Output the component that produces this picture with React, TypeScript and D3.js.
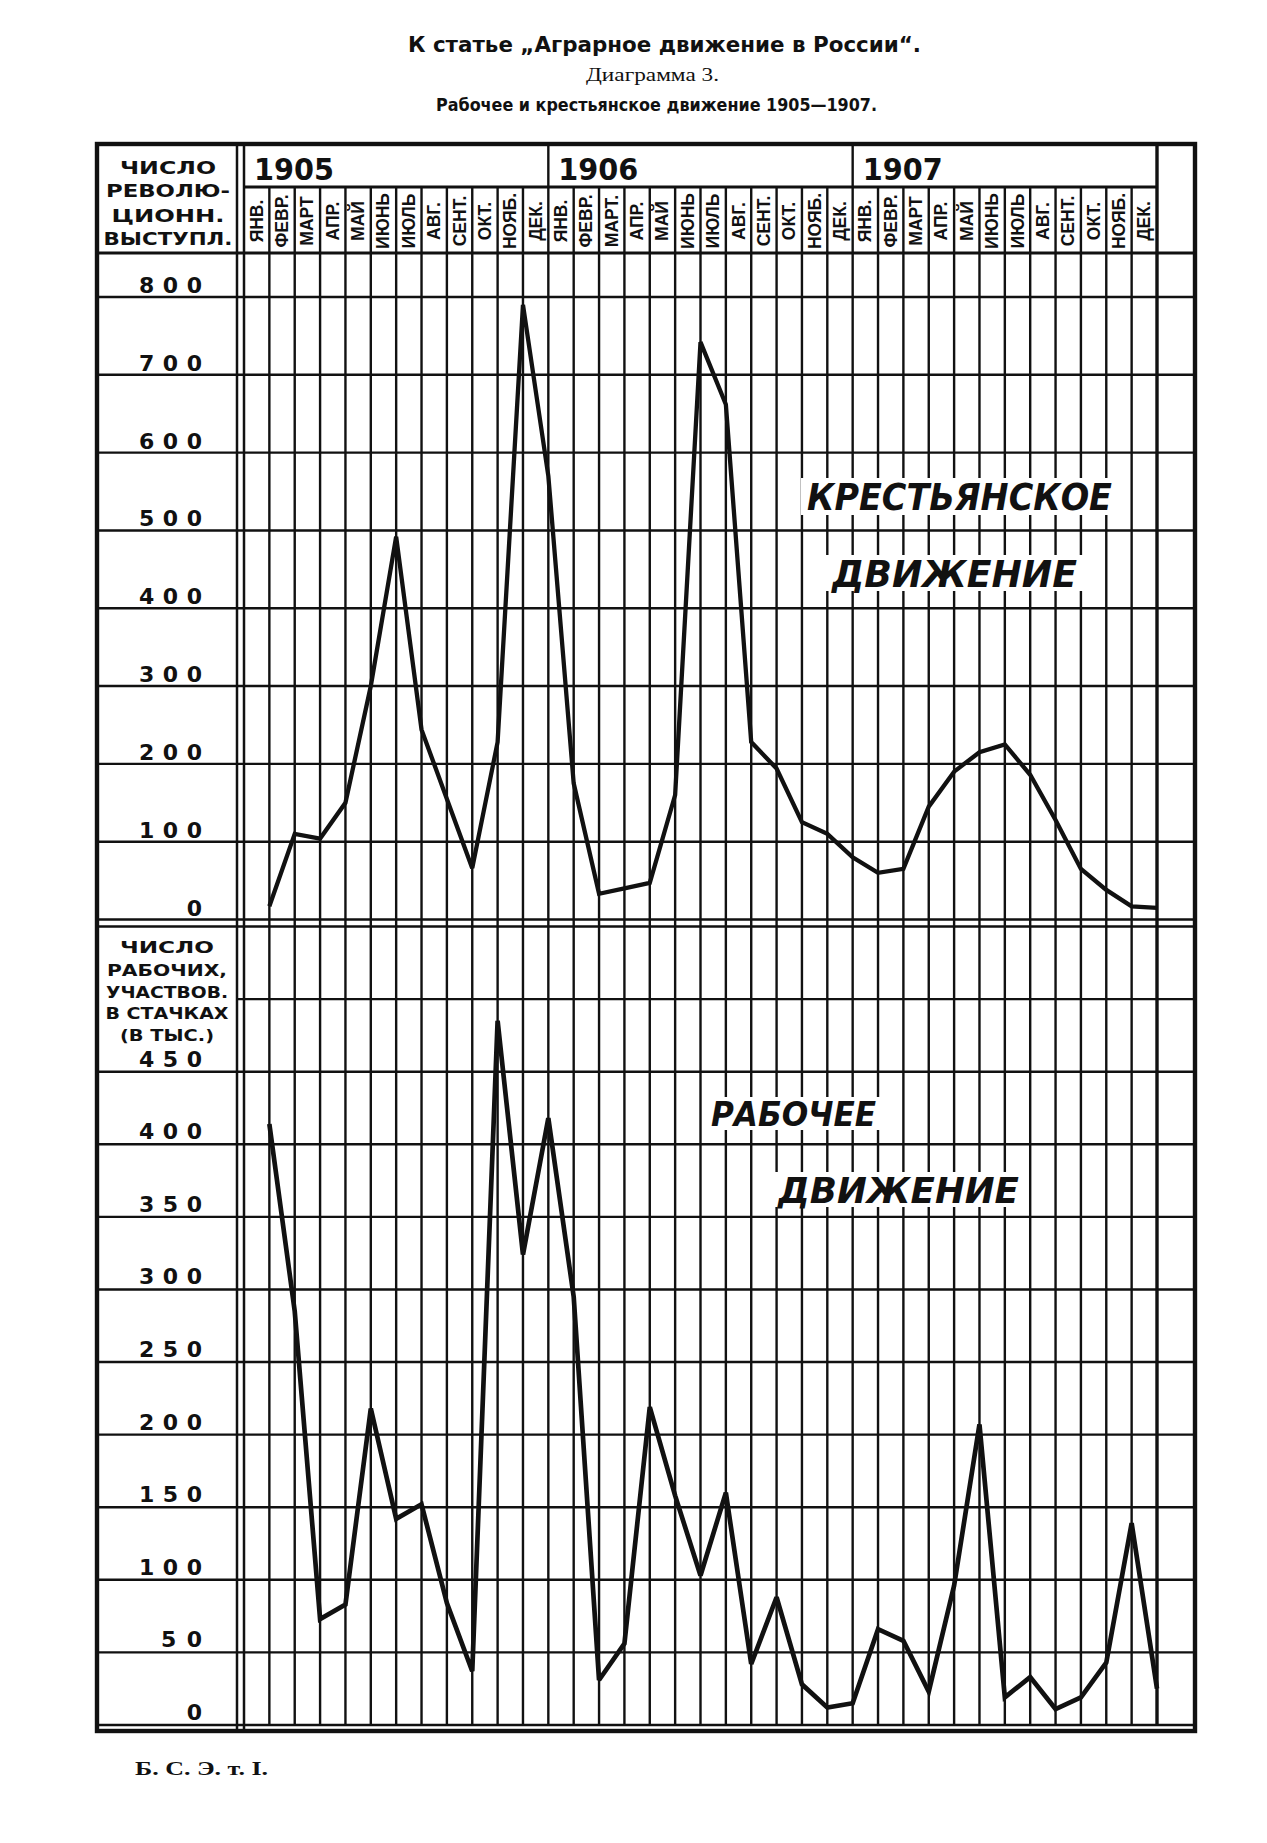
import React from "react";
import * as d3 from "d3";

// ---------- data ----------
const years = ["1905", "1906", "1907"];
const monthLabels = [
  "ЯНВ.", "ФЕВР.", "МАРТ", "АПР.", "МАЙ", "ИЮНЬ", "ИЮЛЬ", "АВГ.", "СЕНТ.", "ОКТ.", "НОЯБ.", "ДЕК.",
  "ЯНВ.", "ФЕВР.", "МАРТ.", "АПР.", "МАЙ", "ИЮНЬ", "ИЮЛЬ", "АВГ.", "СЕНТ.", "ОКТ.", "НОЯБ.", "ДЕК.",
  "ЯНВ.", "ФЕВР.", "МАРТ", "АПР.", "МАЙ", "ИЮНЬ", "ИЮЛЬ", "АВГ.", "СЕНТ.", "ОКТ.", "НОЯБ.", "ДЕК.",
];
// number of revolutionary peasant actions per month
const peasantValues = [
  17, 110, 104, 150, 300, 492, 244, 155, 66, 228, 790, 570,
  175, 33, 40, 47, 160, 742, 662, 228, 194, 125, 110, 80,
  60, 65, 145, 190, 215, 225, 186, 128, 65, 38, 17, 15,
];
// strikers, thousands
const workerValues = [
  414, 285, 73, 83, 218, 142, 152, 84, 37, 485, 324, 418,
  295, 31, 56, 219, 158, 103, 160, 42, 88, 28, 12, 15,
  66, 58, 23, 96, 207, 19, 33, 11, 19, 43, 139, 25,
];
const peasantTicks = [0, 100, 200, 300, 400, 500, 600, 700, 800];
const workerGridTicks = [0, 50, 100, 150, 200, 250, 300, 350, 400, 450, 500, 550];
const workerLabelTicks = [0, 50, 100, 150, 200, 250, 300, 350, 400, 450];
const peasantAxisTitle = ["ЧИСЛО", "РЕВОЛЮ-", "ЦИОНН.", "ВЫСТУПЛ."];
const workerAxisTitle = ["ЧИСЛО", "РАБОЧИХ,", "УЧАСТВОВ.", "В СТАЧКАХ", "(В ТЫС.)"];
const titleText = "К статье „Аграрное движение в России“.";
const subtitleText = "Диаграмма 3.";
const subtitle2Text = "Рабочее и крестьянское движение 1905—1907.";
const footerText = "Б. С. Э. т. I.";
const peasantLabel = ["КРЕСТЬЯНСКОЕ", "ДВИЖЕНИЕ"];
const workerLabel = ["РАБОЧЕЕ", "ДВИЖЕНИЕ"];

// ---------- layout ----------
const W = 1267;
const H = 1843;
const L = 97, R = 1195, T = 144, B = 1731;
const COL1 = 237, COL2 = 244, GRID_R = 1157;
const YEAR_B = 187, HEAD_B = 253;
const INK = "#111";
const GW = 2.4;

const capsFont = "'DejaVu Sans', Verdana, sans-serif";
const narrowFont = "'Liberation Sans Narrow', 'DejaVu Sans Condensed', 'Liberation Sans', Arial, sans-serif";
const monthFont = "'Liberation Sans', Arial, sans-serif";

export default function App() {
  const x = d3.scaleLinear().domain([0, 36]).range([COL2, GRID_R]);
  const yP = d3.scaleLinear().domain([0, 800]).range([919.5, 297]);
  const yW = d3.scaleLinear().domain([0, 550]).range([1725, 926.5]);

  const lineP = d3.line<number>().x((_, i) => x(i + 1)).y((d) => yP(d));
  const lineW = d3.line<number>().x((_, i) => x(i + 1)).y((d) => yW(d));

  const verticals: React.ReactNode[] = [];
  for (let k = 1; k <= 36; k++) {
    const isYear = k % 12 === 0;
    verticals.push(
      <line
        key={"v" + k}
        x1={x(k)}
        x2={x(k)}
        y1={isYear ? T : YEAR_B}
        y2={1725}
        stroke={INK}
        strokeWidth={k === 36 ? 3.4 : GW}
      />
    );
  }

  const labelWidth = (s: string) => (s.length === 3 ? 63 : s.length === 2 ? 41 : undefined);

  return (
    <svg
      width={W}
      height={H}
      viewBox={`0 0 ${W} ${H}`}
      style={{ position: "absolute", left: 0, top: 0, background: "#fff" }}
    >
      <rect x={0} y={0} width={W} height={H} fill="#fff" />

      {/* titles */}
      <text x={408} y={52} fontFamily={narrowFont} fontWeight="bold" fontSize={22}
        textLength={513} lengthAdjust="spacingAndGlyphs" fill={INK}>{titleText}</text>
      <text x={586} y={81} fontFamily="'Liberation Serif', 'DejaVu Serif', serif" fontSize={18}
        textLength={133} lengthAdjust="spacingAndGlyphs" fill={INK}>{subtitleText}</text>
      <text x={436} y={111} fontFamily={narrowFont} fontWeight="bold" fontSize={17}
        textLength={441} lengthAdjust="spacingAndGlyphs" fill={INK}>{subtitle2Text}</text>

      {/* peasant horizontal grid */}
      {peasantTicks.map((v) => (
        <line key={"hp" + v} x1={L} x2={R} y1={yP(v)} y2={yP(v)} stroke={INK} strokeWidth={GW} />
      ))}
      {/* worker horizontal grid */}
      {workerGridTicks.map((v) => (
        <line key={"hw" + v} x1={v === 500 ? COL1 : L} x2={R} y1={yW(v)} y2={yW(v)} stroke={INK} strokeWidth={GW} />
      ))}

      {/* header lines */}
      <line x1={L} x2={R} y1={HEAD_B} y2={HEAD_B} stroke={INK} strokeWidth={2.8} />
      <line x1={COL2} x2={GRID_R} y1={YEAR_B} y2={YEAR_B} stroke={INK} strokeWidth={2.8} />
      <line x1={COL1} x2={COL1} y1={T} y2={B} stroke={INK} strokeWidth={2.5} />
      <line x1={COL2} x2={COL2} y1={T} y2={B} stroke={INK} strokeWidth={2.5} />
      {verticals}

      {/* frame */}
      <rect x={L} y={T} width={R - L} height={B - T} fill="none" stroke={INK} strokeWidth={4.4} />

      {/* year labels */}
      {years.map((yr, i) => (
        <text key={yr} x={x(i * 12) + 10} y={180} fontFamily={capsFont} fontWeight="bold" fontSize={30}
          textLength={80} lengthAdjust="spacingAndGlyphs" fill={INK}>{yr}</text>
      ))}

      {/* month labels */}
      {monthLabels.map((m, k) => {
        const cx = x(k + 0.5);
        const cy = 221;
        return (
          <text key={"m" + k} x={cx} y={cy} transform={`rotate(-90 ${cx} ${cy})`}
            textAnchor="middle" dominantBaseline="central" fontFamily={monthFont}
            fontWeight="bold" fontSize={17.5} fill={INK}>{m}</text>
        );
      })}

      {/* axis titles */}
      {peasantAxisTitle.map((s, i) => {
        const widths = [96, 124, 113, 129];
        return (
          <text key={"pt" + i} x={168} y={[174, 197, 222, 245][i]} textAnchor="middle"
            fontFamily={capsFont} fontWeight="bold" fontSize={17}
            textLength={widths[i]} lengthAdjust="spacingAndGlyphs" fill={INK}>{s}</text>
        );
      })}
      {workerAxisTitle.map((s, i) => {
        const widths = [94, 120, 122, 123, 94];
        return (
          <text key={"wt" + i} x={167} y={[953, 976, 998, 1019, 1041][i]} textAnchor="middle"
            fontFamily={capsFont} fontWeight="bold" fontSize={15.5}
            textLength={widths[i]} lengthAdjust="spacingAndGlyphs" fill={INK}>{s}</text>
        );
      })}

      {/* y tick labels */}
      {peasantTicks.map((v) => {
        const s = String(v);
        return (
          <text key={"lp" + v} x={202} y={yP(v) - 4} textAnchor="end" fontFamily={capsFont}
            fontWeight="bold" fontSize={22} textLength={labelWidth(s)}
            lengthAdjust={labelWidth(s) ? "spacing" : undefined} fill={INK}>{s}</text>
        );
      })}
      {workerLabelTicks.map((v) => {
        const s = String(v);
        return (
          <text key={"lw" + v} x={202} y={yW(v) - 5} textAnchor="end" fontFamily={capsFont}
            fontWeight="bold" fontSize={22} textLength={labelWidth(s)}
            lengthAdjust={labelWidth(s) ? "spacing" : undefined} fill={INK}>{s}</text>
        );
      })}

      {/* series labels with white knock-out */}
      <rect x={801} y={478} width={316} height={37} fill="#fff" />
      <rect x={826} y={555} width={257} height={36} fill="#fff" />
      <rect x={705} y={1097} width={177} height={33} fill="#fff" />
      <rect x={772} y={1172} width={253} height={35} fill="#fff" />
      <text x={807} y={510} fontFamily={capsFont} fontWeight="bold" fontStyle="italic" fontSize={37}
        textLength={305} lengthAdjust="spacingAndGlyphs" fill={INK}>{peasantLabel[0]}</text>
      <text x={832} y={587} fontFamily={capsFont} fontWeight="bold" fontStyle="italic" fontSize={37}
        textLength={245} lengthAdjust="spacingAndGlyphs" fill={INK}>{peasantLabel[1]}</text>
      <text x={711} y={1126} fontFamily={capsFont} fontWeight="bold" fontStyle="italic" fontSize={33}
        textLength={165} lengthAdjust="spacingAndGlyphs" fill={INK}>{workerLabel[0]}</text>
      <text x={778} y={1203} fontFamily={capsFont} fontWeight="bold" fontStyle="italic" fontSize={35}
        textLength={241} lengthAdjust="spacingAndGlyphs" fill={INK}>{workerLabel[1]}</text>

      {/* series lines */}
      <path d={lineP(peasantValues) || ""} fill="none" stroke={INK} strokeWidth={4.3}
        strokeLinejoin="miter" strokeMiterlimit={3} />
      <path d={lineW(workerValues) || ""} fill="none" stroke={INK} strokeWidth={4.7}
        strokeLinejoin="miter" strokeMiterlimit={3} />

      {/* footer */}
      <text x={135} y={1775} fontFamily="'Liberation Serif', 'DejaVu Serif', serif" fontWeight="bold"
        fontSize={18} textLength={133} lengthAdjust="spacingAndGlyphs" fill={INK}>{footerText}</text>
    </svg>
  );
}
